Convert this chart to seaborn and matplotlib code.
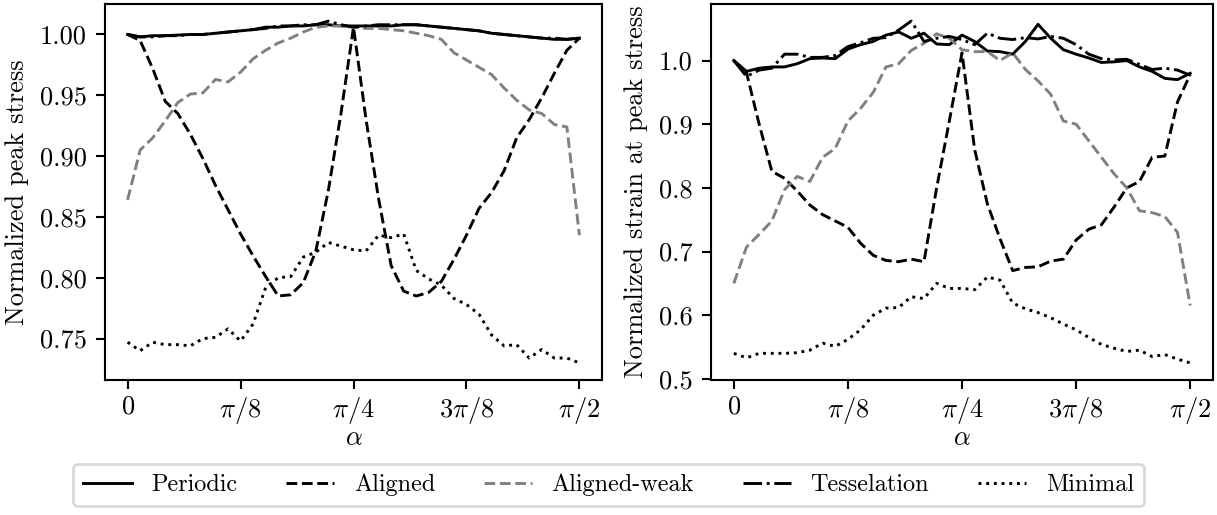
import numpy as np
import pandas as pd
import matplotlib
matplotlib.use("Agg")
import matplotlib.pyplot as plt
import seaborn as sns

# Loading angle alpha (degrees), sampled every 2.5 degrees from 0 to 90
alpha_deg = np.arange(0, 90.1, 2.5)

series_names = ["Periodic", "Aligned", "Aligned-weak", "Tesselation", "Minimal"]

# Normalized peak stress
stress_periodic = [1.000, 0.998, 0.999, 0.999, 0.9995, 1.000, 1.000, 1.001, 1.002, 1.003,
                   1.004, 1.006, 1.006, 1.007, 1.007, 1.008, 1.008, 1.007, 1.007, 1.007,
                   1.007, 1.007, 1.008, 1.008, 1.007, 1.006, 1.005, 1.004, 1.003, 1.001,
                   1.000, 0.999, 0.998, 0.997, 0.996, 0.996, 0.997]
stress_aligned = [1.000, 0.995, 0.972, 0.945, 0.935, 0.918, 0.898, 0.876, 0.856, 0.836,
                  0.818, 0.801, 0.785, 0.786, 0.796, 0.822, 0.872, 0.935, 1.006, 0.930,
                  0.865, 0.810, 0.789, 0.785, 0.788, 0.797, 0.815, 0.835, 0.857, 0.870,
                  0.888, 0.915, 0.930, 0.948, 0.968, 0.987, 0.997]
stress_weak = [0.864, 0.905, 0.915, 0.929, 0.944, 0.951, 0.952, 0.963, 0.961, 0.969,
               0.980, 0.987, 0.993, 0.997, 1.002, 1.006, 1.007, 1.007, 1.006, 1.005,
               1.005, 1.004, 1.003, 1.001, 0.999, 0.996, 0.985, 0.979, 0.973, 0.967,
               0.956, 0.946, 0.938, 0.935, 0.926, 0.924, 0.835]
stress_tessel = [1.000, 0.998, 0.998, 0.999, 0.999, 1.000, 1.000, 1.001, 1.002, 1.003,
                 1.004, 1.005, 1.007, 1.007, 1.008, 1.008, 1.011, 1.008, 1.006, 1.007,
                 1.008, 1.008, 1.008, 1.008, 1.007, 1.006, 1.005, 1.004, 1.003, 1.001,
                 1.000, 0.999, 0.998, 0.997, 0.997, 0.996, 0.997]
stress_minimal = [0.747, 0.740, 0.747, 0.745, 0.745, 0.744, 0.750, 0.751, 0.758, 0.748,
                  0.762, 0.792, 0.800, 0.801, 0.817, 0.821, 0.829, 0.826, 0.823, 0.822,
                  0.835, 0.833, 0.836, 0.806, 0.799, 0.794, 0.783, 0.778, 0.770, 0.753,
                  0.744, 0.745, 0.734, 0.741, 0.734, 0.734, 0.730]

# Normalized strain at peak stress
strain_periodic = [1.000, 0.983, 0.988, 0.990, 0.990, 0.995, 1.003, 1.004, 1.003, 1.018,
                   1.025, 1.030, 1.040, 1.045, 1.035, 1.043, 1.026, 1.025, 1.040, 1.030,
                   1.015, 1.014, 1.010, 1.030, 1.057, 1.035, 1.017, 1.010, 1.004, 0.997,
                   0.998, 1.000, 0.990, 0.983, 0.972, 0.970, 0.980]
strain_aligned = [1.000, 0.981, 0.900, 0.826, 0.815, 0.795, 0.773, 0.758, 0.748, 0.738,
                  0.713, 0.694, 0.686, 0.684, 0.688, 0.684, 0.800, 0.905, 1.012, 0.860,
                  0.775, 0.720, 0.670, 0.675, 0.676, 0.685, 0.688, 0.718, 0.735, 0.742,
                  0.770, 0.800, 0.810, 0.848, 0.850, 0.935, 0.978]
strain_weak = [0.650, 0.707, 0.727, 0.748, 0.797, 0.818, 0.810, 0.848, 0.862, 0.905,
               0.925, 0.950, 0.990, 0.995, 1.016, 1.027, 1.042, 1.035, 1.017, 1.014,
               1.014, 1.000, 1.012, 0.986, 0.968, 0.947, 0.905, 0.900, 0.874, 0.848,
               0.822, 0.800, 0.764, 0.761, 0.755, 0.730, 0.615]
strain_tessel = [1.000, 0.975, 0.985, 0.988, 1.010, 1.010, 1.005, 1.005, 1.008, 1.022,
                 1.028, 1.035, 1.036, 1.048, 1.062, 1.030, 1.035, 1.038, 1.033, 1.025,
                 1.043, 1.035, 1.033, 1.036, 1.034, 1.038, 1.035, 1.025, 1.010, 1.003,
                 1.001, 1.002, 0.994, 0.986, 0.988, 0.985, 0.977]
strain_minimal = [0.540, 0.533, 0.540, 0.540, 0.540, 0.541, 0.545, 0.556, 0.551, 0.562,
                  0.577, 0.600, 0.611, 0.612, 0.629, 0.626, 0.650, 0.642, 0.642, 0.640,
                  0.660, 0.655, 0.619, 0.610, 0.604, 0.596, 0.586, 0.577, 0.565, 0.554,
                  0.548, 0.543, 0.545, 0.535, 0.538, 0.531, 0.525]

xtick_values = [0, np.pi / 8, np.pi / 4, 3 * np.pi / 8, np.pi / 2]
xtick_labels = [r"$0$", r"$\pi/8$", r"$\pi/4$", r"$3\pi/8$", r"$\pi/2$"]

styles = {
    "Periodic": dict(color="black", linestyle="-"),
    "Aligned": dict(color="black", linestyle="--"),
    "Aligned-weak": dict(color="gray", linestyle="--"),
    "Tesselation": dict(color="black", linestyle="-."),
    "Minimal": dict(color="black", linestyle=":"),
}

alpha = np.deg2rad(alpha_deg)
stress = pd.DataFrame({"alpha": alpha, "Periodic": stress_periodic, "Aligned": stress_aligned,
                       "Aligned-weak": stress_weak, "Tesselation": stress_tessel,
                       "Minimal": stress_minimal})
strain = pd.DataFrame({"alpha": alpha, "Periodic": strain_periodic, "Aligned": strain_aligned,
                       "Aligned-weak": strain_weak, "Tesselation": strain_tessel,
                       "Minimal": strain_minimal})

plt.rcParams.update({
    "font.family": ["cmr10", "DejaVu Serif"],
    "mathtext.fontset": "cm",
    "axes.formatter.use_mathtext": True,
    "font.size": 10,
    "axes.unicode_minus": False,
    "xtick.major.pad": 2.0,
})

fig = plt.figure(figsize=(1217 / 190, 515 / 190), dpi=190)
ax1 = fig.add_axes([105 / 1217, 1 - 380 / 515, 497 / 1217, 376 / 515])
ax2 = fig.add_axes([711 / 1217, 1 - 380 / 515, 502 / 1217, 376 / 515])

for ax, df, ylabel in [(ax1, stress, "Normalized peak stress"),
                       (ax2, strain, "Normalized strain at peak stress")]:
    for name in series_names:
        sns.lineplot(data=df, x="alpha", y=name, ax=ax, label=name, lw=1.1,
                     legend=False, **styles[name])
    ax.set_xticks(xtick_values)
    ax.set_xticklabels(xtick_labels)
    ax.set_xlabel(r"$\alpha$", labelpad=0.5)
    ax.set_ylabel(ylabel)

ax1.set_yticks([0.75, 0.80, 0.85, 0.90, 0.95, 1.00])
ax1.set_yticklabels(["0.75", "0.80", "0.85", "0.90", "0.95", "1.00"])
ax2.set_yticks([0.5, 0.6, 0.7, 0.8, 0.9, 1.0])
ax2.set_yticklabels(["0.5", "0.6", "0.7", "0.8", "0.9", "1.0"])

handles, labels = ax1.get_legend_handles_labels()
fig.legend(handles, labels, loc="center", bbox_to_anchor=(0.5, 1 - 485 / 515),
           ncol=5, frameon=True, fontsize=9.2)

fig.savefig("out.png", dpi=190)
